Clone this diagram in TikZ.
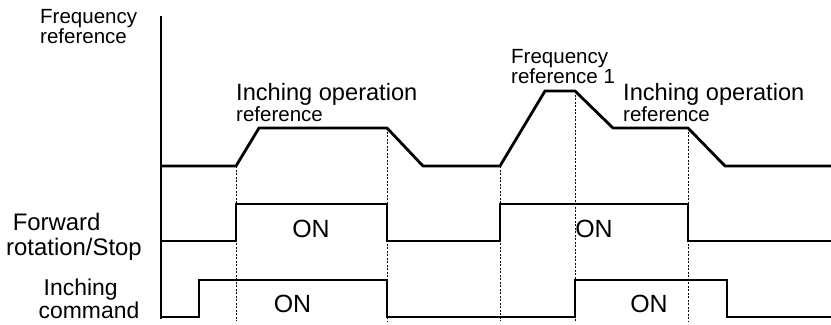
\documentclass[tikz,border=0pt]{standalone}
\usepackage{fontspec}
\setmainfont{Liberation Sans}
\usepackage{tikz}
\usetikzlibrary{positioning}
\newcommand{\fsmall}{\fontsize{20.6}{22}\selectfont}
\newcommand{\fbig}{\fontsize{23.7}{26}\selectfont}
\newcommand{\fside}{\fontsize{24}{26}\selectfont}
\newcommand{\fcmd}{\fontsize{23}{25}\selectfont}
\newcommand{\fon}{\fontsize{25}{27}\selectfont}

\begin{document}
\begin{tikzpicture}[x=1bp, y=-1bp, line join=miter,
  signal/.style={line width=2.8bp},
  guide/.style={line width=0.9bp, dash pattern=on 2bp off 1.5bp},
  lbl/.style={anchor=base west, inner sep=0pt}]
  \useasboundingbox (0,0) rectangle (831,324);
  % time guides
  \foreach \x/\y in {236/166, 387/128, 500/166, 575/91, 688/128}
    {\draw[guide] (\x,\y) -- (\x,321);}
  \draw[line width=1.3bp] (161,16) -- (161,319);
  % frequency reference
  \draw[signal] (161,166) -- (236,166) -- (259,128) -- (387,128) -- (423,166)
    -- (500,166) -- (545,91) -- (575,91) -- (613,128) -- (688,128) -- (725,166) -- (831,166);
  % forward rotation/stop
  \draw[signal] (161,241) -- (236,241) -- (236,204) -- (387,204) -- (387,241)
    -- (500,241) -- (500,204) -- (688,204) -- (688,241) -- (831,241);
  % inching command
  \draw[signal] (161,317) -- (199,317) -- (199,280) -- (387,280) -- (387,317)
    -- (575,317) -- (575,280) -- (727,280) -- (727,317) -- (831,317);
  % labels
  \node[lbl, font=\fsmall] (freq) at (40,23.5) {Frequency};
  \node[lbl, font=\fsmall] (freqref) at (40,43.5) {reference};
  \node[lbl, font=\fbig] (inchop1) at (236,100) {Inching operation};
  \node[lbl, font=\fsmall] (inchref1) at (236,121) {reference};
  \node[lbl, font=\fsmall] (freq1) at (511,63.5) {Frequency};
  \node[lbl, font=\fsmall] (freqref1) at (511,83.5) {reference 1};
  \node[lbl, font=\fbig] (inchop2) at (623,100) {Inching operation};
  \node[lbl, font=\fsmall] (inchref2) at (623,121) {reference};
  \node[lbl, font=\fside] (fwd) at (12.6,230) {Forward};
  \node[lbl, font=\fside] (fwdstop) at (6,255) {rotation/Stop};
  \node[lbl, font=\fcmd] (inch) at (43.5,295.5) {Inching};
  \node[lbl, font=\fcmd] (inchcmd) at (38.5,318) {command};
  % on states
  \foreach \x/\y/\n in {311/237/fwdon1, 594/237/fwdon2, 292.5/312.5/inchon1, 649/312.5/inchon2}
    {\node[anchor=base, inner sep=0pt, font=\fon] (\n) at (\x,\y) {ON};}
\end{tikzpicture}
\end{document}
